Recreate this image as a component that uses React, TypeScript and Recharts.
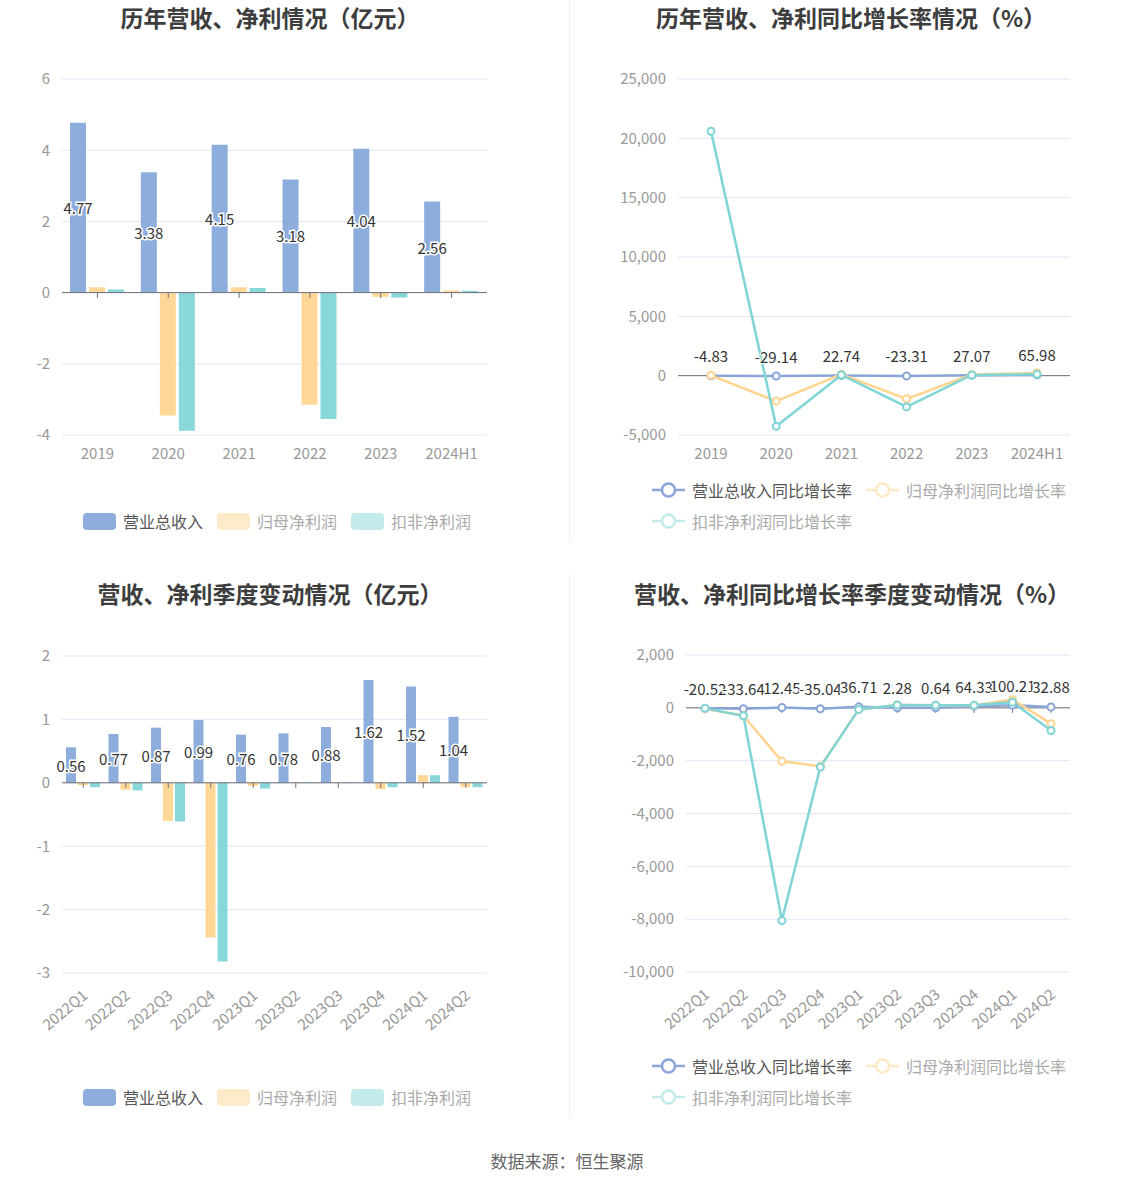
import React from 'react';
import {
  ComposedChart, BarChart, Bar, Line, XAxis, YAxis, CartesianGrid, ReferenceLine, LabelList,
} from 'recharts';

const FONT = '"Noto Sans CJK SC", "Noto Sans", sans-serif';

// 年度数据（亿元）
const years = ['2019', '2020', '2021', '2022', '2023', '2024H1'];
const revenue = [4.77, 3.38, 4.15, 3.18, 4.04, 2.56];
const netProfit = [0.15, -3.45, 0.15, -3.15, -0.12, 0.06];
const deductedProfit = [0.09, -3.88, 0.13, -3.55, -0.14, 0.05];

// 年度同比增长率（%）
const revenueYoy = [-4.83, -29.14, 22.74, -23.31, 27.07, 65.98];
const netProfitYoy = [30, -2150, 110, -1950, 96, 230];
const deductedYoy = [20600, -4270, 60, -2630, 60, 110];

// 季度数据（亿元）
const quarters = ['2022Q1', '2022Q2', '2022Q3', '2022Q4', '2023Q1', '2023Q2', '2023Q3', '2023Q4', '2024Q1', '2024Q2'];
const qRevenue = [0.56, 0.77, 0.87, 0.99, 0.76, 0.78, 0.88, 1.62, 1.52, 1.04];
const qNetProfit = [-0.04, -0.11, -0.6, -2.44, -0.05, 0.01, 0.005, -0.1, 0.12, -0.07];
const qDeducted = [-0.07, -0.12, -0.61, -2.82, -0.09, 0.01, 0.01, -0.07, 0.12, -0.07];

// 季度同比增长率（%）
const qRevenueYoy = [-20.52, -33.64, 12.45, -35.04, 36.71, 2.28, 0.64, 64.33, 100.21, 32.88];
const qNetProfitYoy = [-40, -300, -2025, -2210, -60, 110, 100, 95, 310, -600];
const qDeductedYoy = [-20, -300, -8050, -2240, -60, 110, 100, 95, 215, -860];

const yearTicks = [-4, -2, 0, 2, 4, 6];
const yearYoyTicks = [-5000, 0, 5000, 10000, 15000, 20000, 25000];
const quarterTicks = [-3, -2, -1, 0, 1, 2];
const quarterYoyTicks = [-10000, -8000, -6000, -4000, -2000, 0, 2000];

const C_BLUE = '#8daedc';
const C_YELLOW = '#ffd898';
const C_TEAL = '#88d7d9';
const C_BLUE_LINE = '#8aa6d8';
const C_YELLOW_LINE = '#ffd48f';
const C_TEAL_LINE = '#7fd4d6';

const yearData = years.map((name, i) => ({
  name, revenue: revenue[i], netProfit: netProfit[i], deducted: deductedProfit[i],
  revenueYoy: revenueYoy[i], netProfitYoy: netProfitYoy[i], deductedYoy: deductedYoy[i],
}));

const quarterData = quarters.map((name, i) => ({
  name, revenue: qRevenue[i], netProfit: qNetProfit[i], deducted: qDeducted[i],
  revenueYoy: qRevenueYoy[i], netProfitYoy: qNetProfitYoy[i], deductedYoy: qDeductedYoy[i],
}));

const axisText = { fill: '#999', fontSize: 15, fontFamily: FONT };
const fmtThousands = (v: number) => v.toLocaleString('en-US');

const BarValueLabel = (props: any) => {
  const { x, y, width, height, value } = props;
  return (
    <text
      x={x + width / 2}
      y={y + height / 2}
      textAnchor="middle"
      dominantBaseline="central"
      fontSize={15}
      fontFamily={FONT}
      fill="#333"
      stroke="#fff"
      strokeWidth={3}
      paintOrder="stroke"
    >
      {Number(value).toFixed(2)}
    </text>
  );
};

const PointLabel = (props: any) => {
  const { x, y, value } = props;
  return (
    <text
      x={x}
      y={y - 20}
      textAnchor="middle"
      dominantBaseline="central"
      fontSize={15}
      fontFamily={FONT}
      fill="#333"
      stroke="#fff"
      strokeWidth={2}
      paintOrder="stroke"
    >
      {Number(value).toFixed(2)}
    </text>
  );
};

const RotTick = (props: any) => {
  const { x, y, payload } = props;
  return (
    <g transform={`translate(${x + 2},${y + 12})`}>
      <text textAnchor="end" transform="rotate(-40)" dy="0.35em" fill="#999" fontSize={15} fontFamily={FONT}>
        {payload.value}
      </text>
    </g>
  );
};

const dot = (color: string) => ({ r: 3.5, fill: '#fff', stroke: color, strokeWidth: 2 });

const Title: React.FC<{ text: string; cx: number; cy: number }> = ({ text, cx, cy }) => (
  <div style={{
    position: 'absolute', left: cx - 300, top: cy - 16, width: 600, height: 32, lineHeight: '32px',
    textAlign: 'center', fontSize: 23, fontWeight: 700, color: '#3d3d3d', fontFamily: FONT,
  }}>{text}</div>
);

const BarLegend: React.FC<{ left: number; cy: number }> = ({ left, cy }) => {
  const items = [
    { label: '营业总收入', color: C_BLUE, text: '#555' },
    { label: '归母净利润', color: '#ffebc9', text: '#aaa' },
    { label: '扣非净利润', color: '#c3ebeb', text: '#aaa' },
  ];
  return (
    <div style={{ position: 'absolute', left, top: cy - 11, height: 22, display: 'flex', alignItems: 'center', fontFamily: FONT }}>
      {items.map((it) => (
        <div key={it.label} style={{ display: 'flex', alignItems: 'center', marginRight: 14 }}>
          <div style={{ width: 33, height: 17, borderRadius: 4, background: it.color, marginRight: 7 }} />
          <span style={{ fontSize: 16, color: it.text }}>{it.label}</span>
        </div>
      ))}
    </div>
  );
};

const LineIcon: React.FC<{ color: string }> = ({ color }) => (
  <svg width={33} height={18} style={{ marginRight: 7 }}>
    <line x1={0} y1={9} x2={33} y2={9} stroke={color} strokeWidth={2.5} />
    <circle cx={16.5} cy={9} r={6.5} fill="#fff" stroke={color} strokeWidth={2.5} />
  </svg>
);

const LineLegend: React.FC<{ left: number; cy: number }> = ({ left, cy }) => {
  const row = (label: string, color: string, text: string) => (
    <div style={{ display: 'flex', alignItems: 'center', marginRight: 14 }}>
      <LineIcon color={color} />
      <span style={{ fontSize: 16, color: text }}>{label}</span>
    </div>
  );
  return (
    <div style={{ position: 'absolute', left, top: cy - 11, fontFamily: FONT }}>
      <div style={{ display: 'flex', alignItems: 'center', height: 22 }}>
        {row('营业总收入同比增长率', C_BLUE_LINE, '#555')}
        {row('归母净利润同比增长率', '#ffe9c4', '#aaa')}
      </div>
      <div style={{ display: 'flex', alignItems: 'center', height: 22, marginTop: 9 }}>
        {row('扣非净利润同比增长率', '#c3ebeb', '#aaa')}
      </div>
    </div>
  );
};

const App: React.FC = () => {
  return (
    <div style={{ position: 'relative', width: 1134, height: 1188, background: '#fff', fontFamily: FONT, overflow: 'hidden' }}>
      <style>{'body{margin:0}'}</style>

      {/* 分隔线 */}
      <div style={{ position: 'absolute', left: 569, top: 0, width: 1, height: 542, background: '#eeeeee' }} />
      <div style={{ position: 'absolute', left: 569, top: 575, width: 1, height: 543, background: '#eeeeee' }} />

      <Title text="历年营收、净利情况（亿元）" cx={270} cy={17} />
      <Title text="历年营收、净利同比增长率情况（%）" cx={851} cy={17} />
      <Title text="营收、净利季度变动情况（亿元）" cx={270} cy={593} />
      <Title text="营收、净利同比增长率季度变动情况（%）" cx={852} cy={593} />

      {/* 左上：年度柱状 */}
      <div style={{ position: 'absolute', left: 0, top: 40 }}>
        <BarChart width={567} height={430} data={yearData} margin={{ top: 39, right: 80, left: 12, bottom: 5 }} barSize={16} barGap={3}>
          <CartesianGrid vertical={false} stroke="#e0e6f1" />
          <XAxis dataKey="name" axisLine={false} tickLine={false} tick={axisText} tickMargin={7} height={30} interval={0} />
          <YAxis width={50} domain={[-4, 6]} ticks={yearTicks} axisLine={false} tickLine={false} tick={axisText} tickMargin={6} />
          <Bar dataKey="revenue" fill={C_BLUE} isAnimationActive={false}>
            <LabelList dataKey="revenue" content={BarValueLabel} />
          </Bar>
          <Bar dataKey="netProfit" fill={C_YELLOW} isAnimationActive={false} />
          <Bar dataKey="deducted" fill={C_TEAL} isAnimationActive={false} />
          <ReferenceLine y={0} stroke="#6e7079" />
          {years.map((c) => (
            <ReferenceLine key={c} segment={[{ x: c, y: 0 }, { x: c, y: -0.15 }]} stroke="#6e7079" />
          ))}
        </BarChart>
      </div>

      {/* 右上：年度同比 */}
      <div style={{ position: 'absolute', left: 567, top: 40 }}>
        <ComposedChart width={567} height={430} data={yearData} margin={{ top: 39, right: 64, left: 0, bottom: 5 }}>
          <CartesianGrid vertical={false} stroke="#e0e6f1" />
          <XAxis dataKey="name" axisLine={false} tickLine={false} tick={axisText} tickMargin={7} height={30} interval={0} padding={{ left: 33, right: 33 }} />
          <YAxis width={111} domain={[-5000, 25000]} ticks={yearYoyTicks} axisLine={false} tickLine={false} tick={axisText} tickMargin={6} tickFormatter={fmtThousands} />
          <ReferenceLine y={0} stroke="#6e7079" />
          <Line dataKey="revenueYoy" stroke={C_BLUE_LINE} strokeWidth={2.5} dot={dot(C_BLUE_LINE)} isAnimationActive={false}>
            <LabelList dataKey="revenueYoy" content={PointLabel} />
          </Line>
          <Line dataKey="netProfitYoy" stroke={C_YELLOW_LINE} strokeWidth={2.5} dot={dot(C_YELLOW_LINE)} isAnimationActive={false} />
          <Line dataKey="deductedYoy" stroke={C_TEAL_LINE} strokeWidth={2.5} dot={dot(C_TEAL_LINE)} isAnimationActive={false} />
        </ComposedChart>
      </div>

      {/* 左下：季度柱状 */}
      <div style={{ position: 'absolute', left: 0, top: 600 }}>
        <BarChart width={567} height={450} data={quarterData} margin={{ top: 56, right: 80, left: 12, bottom: 7 }} barSize={10} barGap={2}>
          <CartesianGrid vertical={false} stroke="#e0e6f1" />
          <XAxis dataKey="name" axisLine={false} tickLine={false} tick={RotTick} height={70} interval={0} />
          <YAxis width={50} domain={[-3, 2]} ticks={quarterTicks} axisLine={false} tickLine={false} tick={axisText} tickMargin={6} />
          <Bar dataKey="revenue" fill={C_BLUE} isAnimationActive={false}>
            <LabelList dataKey="revenue" content={BarValueLabel} />
          </Bar>
          <Bar dataKey="netProfit" fill={C_YELLOW} isAnimationActive={false} />
          <Bar dataKey="deducted" fill={C_TEAL} isAnimationActive={false} />
          <ReferenceLine y={0} stroke="#6e7079" />
          {quarters.map((c) => (
            <ReferenceLine key={c} segment={[{ x: c, y: 0 }, { x: c, y: -0.08 }]} stroke="#6e7079" />
          ))}
        </BarChart>
      </div>

      {/* 右下：季度同比 */}
      <div style={{ position: 'absolute', left: 567, top: 600 }}>
        <ComposedChart width={567} height={450} data={quarterData} margin={{ top: 55, right: 64, left: 0, bottom: 8 }}>
          <CartesianGrid vertical={false} stroke="#e0e6f1" />
          <XAxis dataKey="name" axisLine={false} tickLine={false} tick={RotTick} height={70} interval={0} padding={{ left: 19, right: 19 }} />
          <YAxis width={119} domain={[-10000, 2000]} ticks={quarterYoyTicks} axisLine={false} tickLine={false} tick={axisText} tickMargin={6} tickFormatter={fmtThousands} />
          <ReferenceLine y={0} stroke="#6e7079" />
          {quarters.map((c) => (
            <ReferenceLine key={c} segment={[{ x: c, y: 0 }, { x: c, y: -190 }]} stroke="#6e7079" />
          ))}
          <Line dataKey="revenueYoy" stroke={C_BLUE_LINE} strokeWidth={2.5} dot={dot(C_BLUE_LINE)} isAnimationActive={false}>
            <LabelList dataKey="revenueYoy" content={PointLabel} />
          </Line>
          <Line dataKey="netProfitYoy" stroke={C_YELLOW_LINE} strokeWidth={2.5} dot={dot(C_YELLOW_LINE)} isAnimationActive={false} />
          <Line dataKey="deductedYoy" stroke={C_TEAL_LINE} strokeWidth={2.5} dot={dot(C_TEAL_LINE)} isAnimationActive={false} />
        </ComposedChart>
      </div>

      <BarLegend left={83} cy={521} />
      <LineLegend left={652} cy={490} />
      <BarLegend left={83} cy={1097} />
      <LineLegend left={652} cy={1066} />

      <div style={{
        position: 'absolute', left: 0, top: 1148, width: 1134, textAlign: 'center',
        fontSize: 17, color: '#666', fontFamily: FONT, lineHeight: '26px',
      }}>数据来源：恒生聚源</div>
    </div>
  );
};

export default App;
